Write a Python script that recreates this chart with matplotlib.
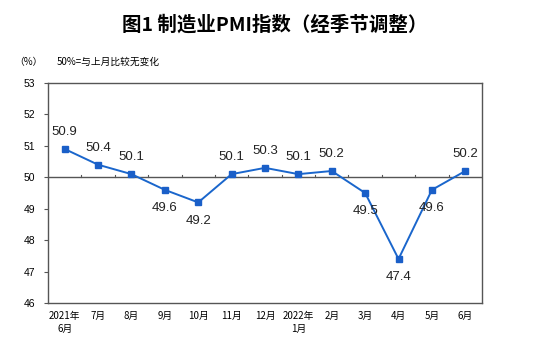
import numpy as np
import matplotlib.pyplot as plt

plt.rcParams['font.family'] = ['Liberation Sans', 'Noto Sans CJK SC']

# 数据：制造业PMI（经季节调整）
months = ['2021年\n6月', '7月', '8月', '9月', '10月', '11月', '12月',
          '2022年\n1月', '2月', '3月', '4月', '5月', '6月']
pmi = [50.9, 50.4, 50.1, 49.6, 49.2, 50.1, 50.3, 50.1, 50.2, 49.5, 47.4, 49.6, 50.2]
label_below = [False, False, False, True, True, False, False, False, False, True, True, True, False]
y_ticks = [46, 47, 48, 49, 50, 51, 52, 53]

fig = plt.figure(figsize=(5.5, 3.46), dpi=100)
ax = fig.add_axes([48 / 550, 1 - 303 / 346, 434 / 550, 220 / 346])

x = np.arange(len(pmi))
ax.plot(x, pmi, color='#1a66cc', linewidth=1.4, marker='s', markersize=4.2,
        markerfacecolor='#1a5fc8', markeredgecolor='#1a5fc8', zorder=3)

# 50 基准线和分类刻度
ax.axhline(50, color='#555555', linewidth=1.0, zorder=2)
for b in np.arange(0.5, len(pmi) - 0.5, 1.0):
    ax.plot([b, b], [50, 50.08], color='#555555', linewidth=0.8, zorder=2)

for xi, v, below in zip(x, pmi, label_below):
    if below:
        ax.annotate(f'{v}', (xi, v), xytext=(0, -9), textcoords='offset points',
                    ha='center', va='top', fontsize=9.5, color='#222222')
    else:
        ax.annotate(f'{v}', (xi, v), xytext=(0, 8), textcoords='offset points',
                    ha='center', va='bottom', fontsize=9.5, color='#222222')

ax.set_xlim(-0.5, len(pmi) - 0.5)
ax.set_ylim(46, 53)
ax.set_yticks(y_ticks)
ax.set_yticklabels([str(t) for t in y_ticks], fontsize=7.5)
ax.set_xticks(x)
ax.set_xticklabels(months, fontsize=7, family=['Noto Sans CJK SC'], linespacing=1.3)
ax.tick_params(axis='x', length=0, pad=6)
ax.tick_params(axis='y', length=3, width=0.8, color='#555555', pad=6)
for s in ax.spines.values():
    s.set_color('#555555')
    s.set_linewidth(1.0)

fig.text(0.5, 1 - 25 / 346, '图1 制造业PMI指数（经季节调整）', ha='center', va='center',
         fontsize=14, fontweight='bold', family=['Noto Sans CJK SC'])
fig.text(14 / 550, 1 - 65 / 346, '（%）', ha='left', va='baseline', fontsize=7,
         family=['Noto Sans CJK SC'])
fig.text(57 / 550, 1 - 65 / 346, '50%=与上月比较无变化', ha='left', va='baseline', fontsize=7,
         family=['Noto Sans CJK SC'])

fig.savefig('out.png', dpi=100)
